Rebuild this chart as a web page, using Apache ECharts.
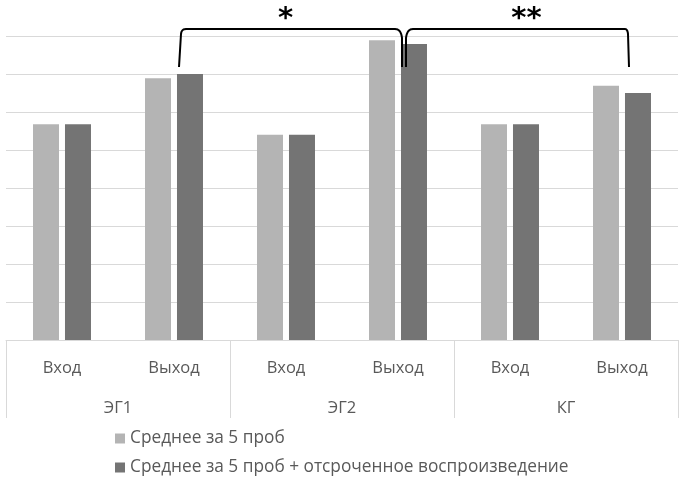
<!DOCTYPE html>
<html>
<head>
<meta charset="utf-8">
<script src="https://cdn.jsdelivr.net/npm/echarts@6/dist/echarts.min.js"></script>
<style>html,body{margin:0;padding:0;background:#fff}#c{width:682px;height:482px}</style>
</head>
<body>
<div id="c"></div>
<script>
const categories = ['Вход', 'Выход', 'Вход', 'Выход', 'Вход', 'Выход'];
const groups = ['ЭГ1', 'ЭГ2', 'КГ'];
const seriesNames = ['Среднее за 5 проб', 'Среднее за 5 проб + отсроченное воспроизведение'];
const mean5 = [5.68, 6.89, 5.4, 7.89, 5.68, 6.69];
const mean5delayed = [5.68, 7.0, 5.4, 7.79, 5.68, 6.5];
const significance = [
  { from: 1, to: 3, label: '*' },
  { from: 3, to: 5, label: '**' }
];

const FONT = 'Open Sans';
const chart = echarts.init(document.getElementById('c'), null, { renderer: 'canvas' });
chart.setOption({
  animation: false,
  backgroundColor: '#ffffff',
  grid: { left: 6, right: 4, top: 36, bottom: 142, containLabel: false },
  legend: {
    orient: 'vertical',
    left: 115,
    top: 428,
    height: 54,
    padding: 0,
    icon: 'rect',
    itemWidth: 10,
    itemHeight: 10,
    itemGap: 8,
    textStyle: { fontFamily: FONT, fontSize: 17.3, color: '#595959', lineHeight: 21 },
    data: seriesNames
  },
  xAxis: [
    {
      type: 'category',
      data: categories,
      position: 'bottom',
      axisLine: { show: true, lineStyle: { color: '#d9d9d9', width: 1 } },
      axisTick: { show: false },
      axisLabel: { margin: 20, fontFamily: FONT, fontSize: 16.5, color: '#595959', interval: 0 }
    },
    {
      type: 'category',
      data: groups,
      position: 'bottom',
      axisLine: { show: false },
      axisTick: { show: true, length: 78, alignWithLabel: false, lineStyle: { color: '#d9d9d9', width: 1 } },
      axisLabel: { margin: 60, fontFamily: FONT, fontSize: 16.5, color: '#595959', interval: 0 }
    }
  ],
  yAxis: {
    type: 'value',
    min: 0,
    max: 8,
    interval: 1,
    axisLine: { show: false },
    axisTick: { show: false },
    axisLabel: { show: false },
    splitLine: { show: true, lineStyle: { color: '#d9d9d9', width: 1 } }
  },
  series: [
    {
      name: seriesNames[0],
      type: 'bar',
      xAxisIndex: 0,
      data: mean5,
      barWidth: 26,
      barGap: '23%',
      itemStyle: { color: '#b4b4b4' }
    },
    {
      name: seriesNames[1],
      type: 'bar',
      xAxisIndex: 0,
      data: mean5delayed,
      barWidth: 26,
      itemStyle: { color: '#747474' }
    }
  ]
});

function quad(p0, c, p1, n) {
  const pts = [];
  for (let k = 1; k <= n; k++) {
    const t = k / n, u = 1 - t;
    pts.push([u * u * p0[0] + 2 * u * t * c[0] + t * t * p1[0], u * u * p0[1] + 2 * u * t * c[1] + t * t * p1[1]]);
  }
  return pts;
}

function drawBrackets() {
  const top = 29, bottom = 67;
  const els = [];
  significance.forEach((s, i) => {
    const xa = chart.convertToPixel({ xAxisIndex: 0 }, s.from);
    const xb = chart.convertToPixel({ xAxisIndex: 0 }, s.to);
    let x1, x2, pts;
    if (i === 0) {
      x1 = xa + 5; x2 = xb + 4;
      pts = [[x1, bottom], [x1 + 2, top + 5]];
      pts = pts.concat(quad([x1 + 2, top + 5], [x1 + 2.5, top], [x1 + 7, top], 6));
      pts.push([x2 - 7, top]);
      pts = pts.concat(quad([x2 - 7, top], [x2 - 1, top], [x2, top + 9], 8));
      pts.push([x2, bottom]);
    } else {
      x1 = xa + 8; x2 = xb + 7;
      pts = [[x1, bottom], [x1, top + 9]];
      pts = pts.concat(quad([x1, top + 9], [x1 + 1, top], [x1 + 7, top], 8));
      pts.push([x2 - 4, top]);
      pts = pts.concat(quad([x2 - 4, top], [x2 - 1.5, top], [x2 - 1, top + 5], 6));
      pts.push([x2, bottom]);
    }
    els.push({
      type: 'polyline',
      shape: { points: pts },
      style: { stroke: '#000', lineWidth: 2, fill: null, lineJoin: 'round' },
      z: 100
    });
    els.push({
      type: 'text',
      x: i === 0 ? (x1 + x2) / 2 - 5 : (x1 + x2) / 2 + 9,
      y: 19,
      style: {
        text: s.label,
        font: 'bold 29px "DejaVu Sans"',
        fill: '#000',
        align: 'center',
        verticalAlign: 'middle'
      },
      z: 100
    });
  });
  chart.setOption({ graphic: els });
}
drawBrackets();
</script>
</body>
</html>
